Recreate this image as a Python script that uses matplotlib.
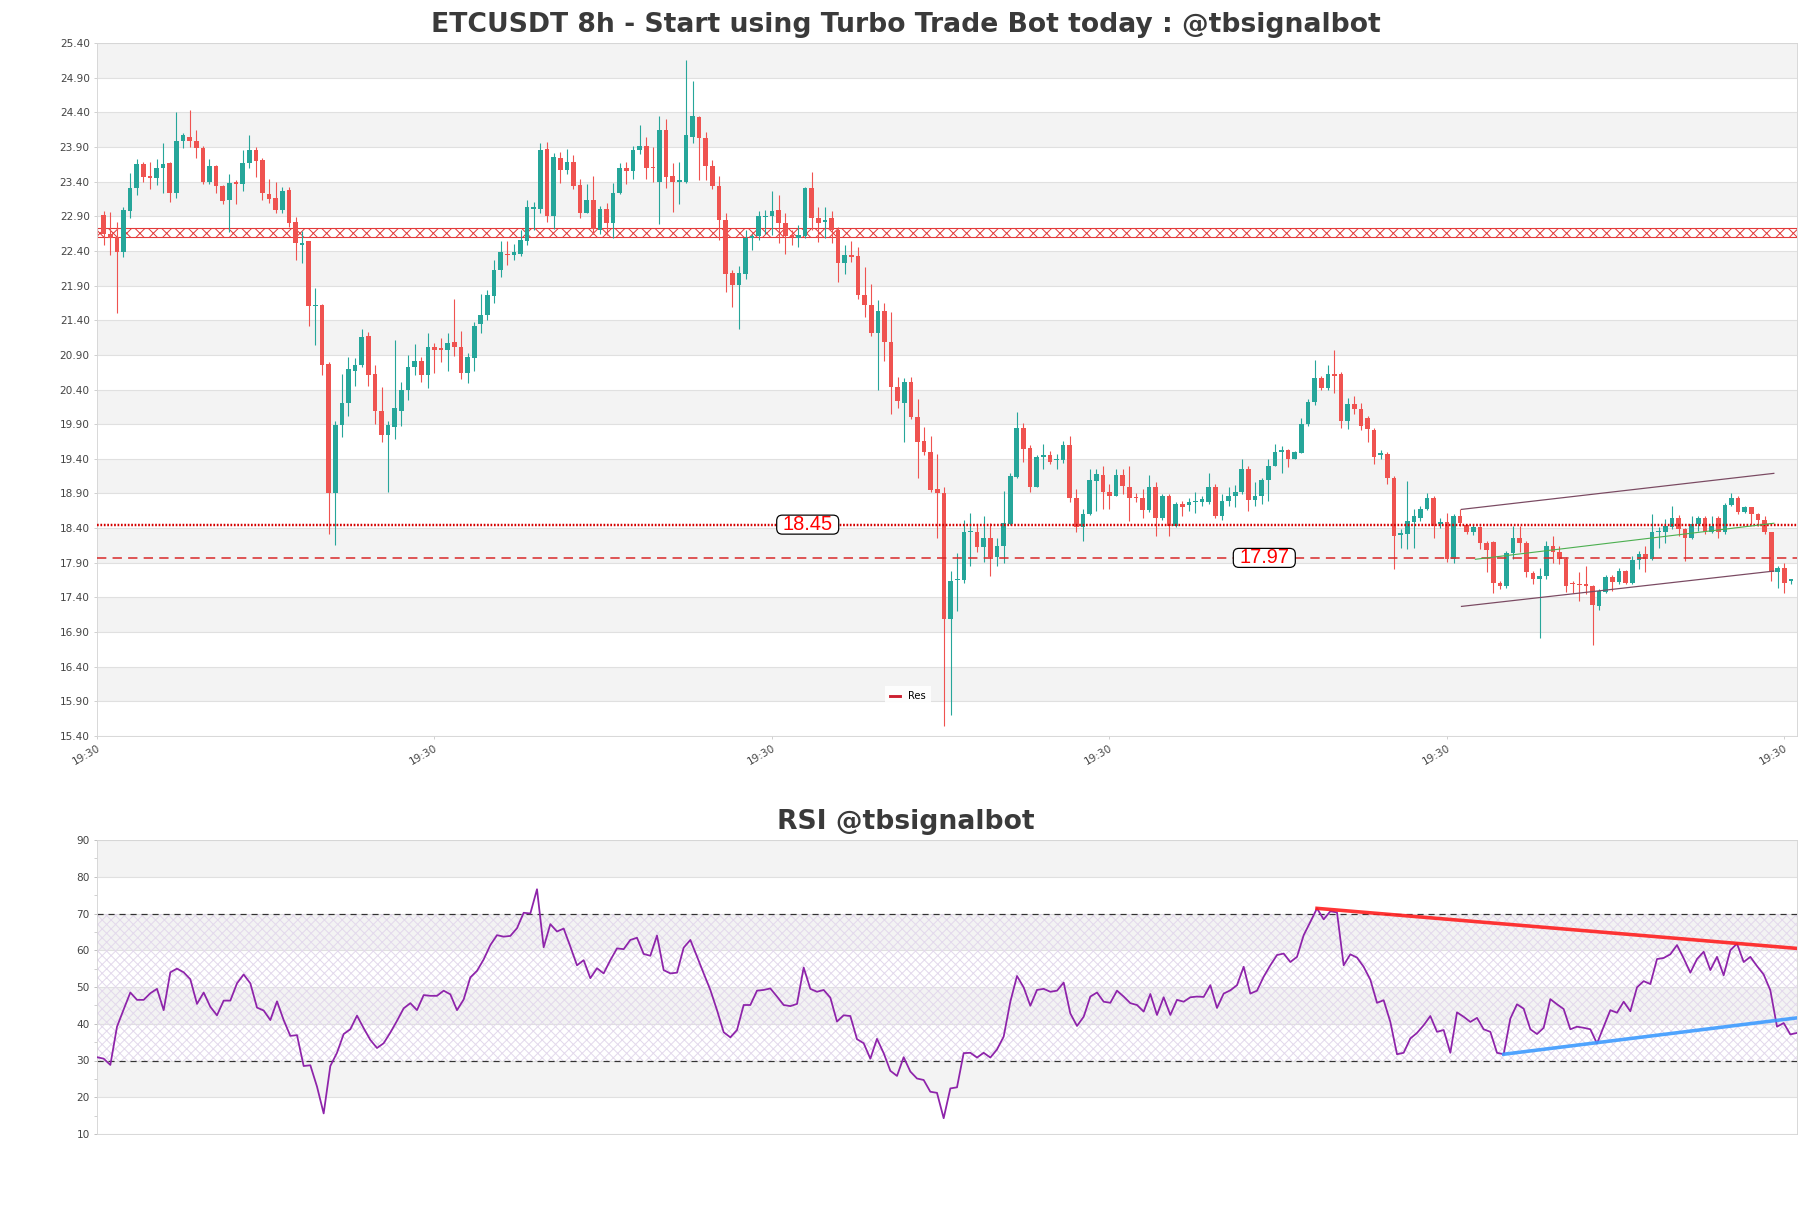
import numpy as np
import matplotlib
matplotlib.use("Agg")
from matplotlib import pyplot as plt
from matplotlib.lines import Line2D
from matplotlib.patches import FancyBboxPatch
import matplotlib.transforms as mtrans

# candles (8h)
opens = [
    22.92, 22.65, 22.60, 22.39, 22.98, 23.31, 23.66, 23.48, 23.45, 23.59,
    23.67, 23.24, 23.99, 24.05, 23.99, 23.88, 23.39, 23.62, 23.34, 23.13,
    23.38, 23.37, 23.67, 23.86, 23.71, 23.22, 23.16, 22.99, 23.28, 22.81,
    22.49, 22.55, 21.60, 21.62, 20.77, 18.91, 19.89, 20.21, 20.67, 20.75,
    21.17, 20.63, 20.09, 19.74, 19.86, 20.09, 20.40, 20.73, 20.81, 20.61,
    21.02, 21.00, 20.97, 21.08, 21.02, 20.64, 20.85, 21.34, 21.47, 21.75,
    22.12, 22.36, 22.34, 22.36, 22.55, 23.01, 23.00, 23.87, 22.90, 23.74,
    23.57, 23.69, 23.35, 22.95, 23.14, 22.70, 23.00, 22.80, 23.24, 23.59,
    23.56, 23.86, 23.91, 23.61, 23.39, 24.15, 23.48, 23.40, 23.39, 24.05,
    24.33, 24.03, 23.62, 23.34, 22.85, 22.08, 21.91, 22.07, 22.59, 22.61,
    22.89, 22.90, 22.99, 22.80, 22.63, 22.59, 22.61, 23.31, 22.88, 22.82,
    22.87, 22.70, 22.23, 22.34, 22.32, 21.77, 21.62, 21.21, 21.53, 21.08,
    20.44, 20.21, 20.51, 20.01, 19.65, 19.50, 18.97, 18.90, 17.09, 17.65,
    17.65, 18.34, 18.35, 18.13, 18.26, 17.98, 18.14, 18.46, 19.14, 19.85,
    19.55, 19.00, 19.43, 19.45, 19.38, 19.38, 19.60, 18.84, 18.42, 18.60,
    19.08, 19.16, 18.92, 18.87, 19.16, 19.00, 18.84, 18.83, 18.66, 19.00,
    18.54, 18.86, 18.43, 18.75, 18.73, 18.77, 18.77, 18.78, 19.00, 18.57,
    18.79, 18.86, 18.92, 19.26, 18.81, 18.87, 19.10, 19.30, 19.50, 19.52,
    19.40, 19.49, 19.90, 20.22, 20.56, 20.42, 20.62, 20.63, 19.95, 20.19,
    20.12, 19.99, 19.82, 19.45, 19.47, 19.12, 18.30, 18.31, 18.49, 18.55,
    18.68, 18.83, 18.46, 18.49, 17.95, 18.57, 18.44, 18.34, 18.41, 18.18,
    18.20, 17.61, 17.56, 18.04, 18.26, 18.19, 17.75, 17.66, 17.71, 18.14,
    18.06, 17.95, 17.60, 17.60, 17.59, 17.56, 17.28, 17.48, 17.69, 17.62,
    17.78, 17.61, 17.94, 18.02, 17.96, 18.34, 18.35, 18.41, 18.55, 18.38,
    18.25, 18.46, 18.55, 18.35, 18.55, 18.34, 18.73, 18.84, 18.63, 18.70,
    18.60, 18.52, 18.34, 17.77, 17.82, 17.64]
highs = [
    22.97, 22.96, 22.82, 23.03, 23.53, 23.73, 23.69, 23.69, 23.72, 23.96,
    23.69, 24.40, 24.10, 24.43, 24.15, 23.92, 23.73, 23.64, 23.35, 23.51,
    23.42, 23.86, 24.07, 23.90, 23.74, 23.44, 23.40, 23.32, 23.32, 22.89,
    22.68, 22.55, 21.86, 21.64, 20.80, 19.94, 20.63, 20.87, 20.85, 21.28,
    21.23, 20.75, 20.44, 19.95, 21.11, 20.51, 20.90, 21.06, 20.87, 21.22,
    21.07, 21.14, 21.21, 21.71, 21.24, 20.92, 21.38, 21.78, 21.83, 22.27,
    22.54, 22.55, 22.50, 22.70, 23.14, 23.11, 23.96, 23.97, 23.81, 23.83,
    23.87, 23.79, 23.44, 23.37, 23.48, 23.05, 23.09, 23.38, 23.67, 23.68,
    23.91, 24.21, 24.05, 23.90, 24.34, 24.30, 23.67, 23.69, 25.15, 24.85,
    24.35, 24.12, 23.71, 23.48, 22.94, 22.13, 22.18, 22.70, 22.65, 22.98,
    22.99, 23.27, 23.21, 22.94, 22.70, 22.77, 23.32, 23.54, 23.03, 23.03,
    22.97, 22.75, 22.49, 22.55, 22.46, 22.17, 21.92, 21.69, 21.65, 21.52,
    20.58, 20.56, 20.58, 20.26, 19.86, 19.73, 19.47, 19.00, 17.78, 18.04,
    18.51, 18.62, 18.46, 18.57, 18.48, 18.26, 18.94, 19.19, 20.08, 19.91,
    19.60, 19.45, 19.61, 19.51, 19.47, 19.66, 19.73, 18.97, 18.67, 19.25,
    19.25, 19.30, 19.03, 19.26, 19.26, 19.30, 18.91, 18.97, 19.16, 19.06,
    18.89, 18.89, 18.77, 18.79, 18.83, 18.92, 18.86, 19.19, 19.03, 18.89,
    18.99, 19.02, 19.40, 19.30, 19.06, 19.13, 19.40, 19.61, 19.59, 19.54,
    19.51, 19.99, 20.26, 20.83, 20.60, 20.76, 20.97, 20.65, 20.28, 20.31,
    20.20, 20.02, 19.85, 19.52, 19.50, 19.15, 18.38, 19.08, 18.67, 18.72,
    18.91, 18.86, 18.55, 18.62, 18.60, 18.68, 18.46, 18.46, 18.43, 18.22,
    18.22, 17.63, 18.07, 18.43, 18.43, 18.22, 17.78, 17.82, 18.22, 18.28,
    18.14, 17.98, 17.64, 17.77, 17.85, 17.58, 17.52, 17.73, 17.72, 17.83,
    17.80, 18.00, 18.07, 18.14, 18.60, 18.41, 18.53, 18.72, 18.59, 18.40,
    18.58, 18.58, 18.58, 18.57, 18.57, 18.76, 18.91, 18.87, 18.72, 18.71,
    18.62, 18.57, 18.34, 17.85, 17.90, 17.66]
lows = [
    22.48, 22.34, 21.51, 22.31, 22.88, 23.21, 23.40, 23.30, 23.35, 23.24,
    23.11, 23.16, 23.88, 23.90, 23.74, 23.37, 23.36, 23.24, 23.08, 22.67,
    23.08, 23.27, 23.60, 23.47, 23.14, 23.09, 22.95, 22.94, 22.75, 22.27,
    22.23, 21.31, 21.04, 20.61, 18.31, 18.16, 19.72, 20.02, 20.45, 20.73,
    20.45, 19.90, 19.64, 18.92, 19.69, 19.88, 20.25, 20.61, 20.51, 20.42,
    20.64, 20.79, 20.66, 20.88, 20.55, 20.49, 20.67, 21.22, 21.40, 21.65,
    22.02, 22.19, 22.27, 22.33, 22.48, 22.70, 22.94, 22.82, 22.71, 23.38,
    23.51, 23.30, 22.87, 22.94, 22.65, 22.65, 22.63, 22.59, 23.22, 23.36,
    23.44, 23.80, 23.44, 23.39, 22.79, 23.31, 22.96, 23.07, 23.38, 23.96,
    23.42, 23.42, 23.30, 22.56, 21.80, 21.59, 21.27, 21.99, 22.42, 22.56,
    22.64, 22.63, 22.52, 22.36, 22.48, 22.45, 22.59, 22.70, 22.53, 22.59,
    22.51, 21.95, 22.07, 22.24, 21.71, 21.44, 21.17, 20.40, 20.81, 20.04,
    20.13, 19.64, 19.98, 19.12, 19.45, 18.92, 18.26, 15.55, 15.71, 17.20,
    17.61, 17.85, 18.05, 17.91, 17.71, 17.85, 17.89, 18.44, 19.12, 19.36,
    18.92, 19.00, 19.26, 19.32, 19.26, 19.34, 18.77, 18.34, 18.22, 18.59,
    18.65, 18.68, 18.67, 18.87, 18.89, 18.50, 18.77, 18.54, 18.63, 18.28,
    18.52, 18.29, 18.41, 18.57, 18.65, 18.62, 18.72, 18.75, 18.54, 18.52,
    18.72, 18.71, 18.89, 18.65, 18.72, 18.75, 18.79, 19.30, 19.19, 19.28,
    19.39, 19.48, 19.88, 20.18, 20.40, 20.40, 20.35, 19.85, 19.83, 20.05,
    19.82, 19.64, 19.32, 19.40, 19.03, 17.81, 18.12, 18.10, 18.12, 18.50,
    18.66, 18.26, 18.40, 17.91, 17.90, 18.43, 18.31, 18.30, 18.10, 17.76,
    17.46, 17.52, 17.54, 17.96, 18.05, 17.70, 17.59, 16.81, 17.66, 17.90,
    17.88, 17.48, 17.46, 17.35, 17.45, 16.71, 17.22, 17.47, 17.49, 17.60,
    17.60, 17.59, 17.81, 17.77, 17.94, 18.12, 18.19, 18.39, 18.29, 17.93,
    18.24, 18.36, 18.31, 18.33, 18.26, 18.31, 18.72, 18.60, 18.62, 18.46,
    18.43, 18.31, 17.64, 17.54, 17.47, 17.59]
closes = [
    22.65, 22.59, 22.39, 22.99, 23.31, 23.65, 23.47, 23.45, 23.59, 23.66,
    23.24, 23.99, 24.07, 23.98, 23.88, 23.39, 23.62, 23.34, 23.12, 23.38,
    23.37, 23.67, 23.85, 23.70, 23.23, 23.15, 22.99, 23.27, 22.80, 22.51,
    22.52, 21.60, 21.62, 20.75, 18.90, 19.89, 20.21, 20.70, 20.75, 21.16,
    20.61, 20.09, 19.74, 19.89, 20.13, 20.40, 20.73, 20.81, 20.61, 21.02,
    20.97, 20.97, 21.07, 21.02, 20.64, 20.87, 21.32, 21.47, 21.76, 22.13,
    22.38, 22.34, 22.38, 22.56, 23.03, 23.03, 23.86, 22.90, 23.76, 23.57,
    23.69, 23.34, 22.95, 23.13, 22.71, 23.01, 22.80, 23.24, 23.60, 23.56,
    23.85, 23.91, 23.60, 23.59, 24.15, 23.47, 23.39, 23.42, 24.07, 24.34,
    24.03, 23.62, 23.34, 22.85, 22.07, 21.91, 22.08, 22.59, 22.61, 22.90,
    22.91, 22.97, 22.80, 22.61, 22.60, 22.63, 23.31, 22.88, 22.80, 22.85,
    22.70, 22.23, 22.34, 22.31, 21.76, 21.62, 21.21, 21.53, 21.08, 20.43,
    20.24, 20.51, 20.01, 19.64, 19.50, 18.95, 18.90, 17.09, 17.64, 17.66,
    18.34, 18.35, 18.13, 18.26, 17.98, 18.14, 18.48, 19.15, 19.85, 19.54,
    19.00, 19.42, 19.45, 19.36, 19.39, 19.60, 18.84, 18.42, 18.60, 19.09,
    19.18, 18.92, 18.87, 19.16, 19.01, 18.84, 18.83, 18.66, 19.00, 18.54,
    18.87, 18.43, 18.75, 18.70, 18.77, 18.78, 18.82, 19.00, 18.57, 18.79,
    18.86, 18.92, 19.26, 18.81, 18.87, 19.10, 19.30, 19.50, 19.52, 19.40,
    19.50, 19.90, 20.22, 20.56, 20.42, 20.63, 20.60, 19.95, 20.19, 20.12,
    19.87, 19.83, 19.43, 19.48, 19.12, 18.29, 18.33, 18.50, 18.57, 18.68,
    18.83, 18.43, 18.49, 17.95, 18.57, 18.47, 18.34, 18.41, 18.18, 18.09,
    17.61, 17.56, 18.04, 18.26, 18.18, 17.76, 17.66, 17.71, 18.14, 18.06,
    17.95, 17.57, 17.59, 17.58, 17.57, 17.29, 17.49, 17.69, 17.62, 17.78,
    17.61, 17.94, 18.02, 17.96, 18.35, 18.36, 18.43, 18.55, 18.38, 18.25,
    18.46, 18.55, 18.35, 18.43, 18.34, 18.73, 18.84, 18.63, 18.71, 18.60,
    18.52, 18.34, 17.77, 17.83, 17.61, 17.65]

rsi = [
    30.9, 30.5, 28.8, 39.2, 43.9, 48.5, 46.5, 46.5, 48.3, 49.5,
    43.7, 54.0, 55.0, 54.0, 52.1, 45.4, 48.5, 44.6, 42.3, 46.3,
    46.3, 51.0, 53.4, 51.0, 44.4, 43.6, 41.0, 46.1, 41.0, 36.7,
    36.9, 28.5, 28.7, 22.9, 15.6, 28.5, 32.1, 37.2, 38.5, 42.2,
    38.8, 35.6, 33.4, 34.7, 37.6, 40.8, 44.2, 45.6, 43.7, 47.8,
    47.6, 47.6, 49.0, 48.0, 43.7, 46.6, 52.6, 54.4, 57.5, 61.4,
    64.1, 63.7, 63.9, 66.0, 70.2, 70.0, 76.6, 60.8, 67.1, 65.1,
    65.9, 61.0, 55.9, 57.3, 52.4, 55.1, 53.7,
    57.3, 60.5, 60.3, 62.8, 63.4, 59.0, 58.5, 64.0, 54.6, 53.7,
    53.9, 60.7, 62.8, 58.3, 53.7, 49.2, 43.7, 37.7, 36.3, 38.3,
    45.1, 45.1, 49.0, 49.2, 49.6, 47.4, 45.1, 44.8, 45.4, 55.3,
    49.5, 48.7, 49.2, 47.1, 40.6, 42.3, 42.1, 35.8, 34.7, 30.5,
    35.9, 32.0, 27.2, 25.8, 30.9, 27.0, 25.1, 24.7, 21.5, 21.2,
    14.3, 22.4, 22.7, 32.0, 32.1, 30.8, 32.1, 30.8, 33.0, 36.5,
    46.0, 53.0, 49.9, 44.9, 49.2, 49.5, 48.7, 49.0, 51.2, 42.8,
    39.4, 41.9, 47.4, 48.5, 46.0, 45.7, 49.0, 47.4, 45.6, 45.1,
    43.3, 48.1, 42.4, 47.2, 42.4, 46.5, 46.0, 47.2, 47.4,
    47.3, 50.5, 44.3, 48.2, 49.1, 50.5, 55.5, 48.2, 49.0, 52.8,
    55.9, 58.7, 59.1, 56.8, 58.2, 64.1, 67.7, 71.4, 68.4, 70.6,
    70.3, 55.9, 58.9, 58.0, 55.5, 52.0, 45.7, 46.4, 40.5, 31.7,
    32.1, 36.0, 37.5, 39.6, 42.1, 37.8, 38.3, 32.1, 43.1, 41.9,
    40.5, 41.6, 38.5, 37.8, 32.1, 31.7, 41.4, 45.3, 44.1, 38.5,
    37.2, 38.9, 46.7, 45.3, 44.0, 38.5, 39.2, 38.9, 38.5, 34.6,
    39.2, 43.7, 43.0, 46.0, 43.4, 49.9, 51.6, 50.8, 57.6, 57.9,
    58.9, 61.4, 57.8, 53.9, 57.6, 59.6, 54.6, 58.2, 53.2, 60.0,
    61.8, 56.8, 58.2, 55.7, 53.4, 49.1, 39.2, 40.2, 37.1, 37.5]

tick_label = "19:30"
tick_step = 51

zone = (22.605, 22.726)
res_level = 18.45
sup_level = 17.97
res_label_x = 107.4
sup_label_x = 176.4

chan_x = [206.2, 253.4]
chan_top = [18.67, 19.19]
chan_bot = [17.27, 17.78]
mid_x = [208.3, 253.4]
mid_y = [17.95, 18.47]

rsi_top_x = [183, 255]
rsi_top_y = [71.4, 60.5]
rsi_bot_x = [211, 255]
rsi_bot_y = [31.7, 41.6]

UP = '#26a69a'
DOWN = '#ef5350'
BAND = '#f3f3f3'
GRID = '#e0e0e0'
TXT = '#444444'
DPI = 80

plt.rcParams['hatch.linewidth'] = 0.9
fig = plt.figure(figsize=(1811 / DPI, 1208 / DPI), dpi=DPI)
ax = fig.add_axes([97 / 1811, 1 - 736 / 1208, 1700 / 1811, 693 / 1208])
ax2 = fig.add_axes([97 / 1811, 1 - 1134 / 1208, 1700 / 1811, 294 / 1208])

# price panel
yt = np.round(np.arange(15.4, 25.41, 0.5), 2)
for j in range(len(yt) - 1):
    if j % 2 == 1:
        ax.axhspan(yt[j], yt[j + 1], color=BAND, lw=0, zorder=0)
for v in yt:
    ax.axhline(v, color=GRID, lw=1, zorder=0.5)

x = np.arange(1, len(opens) + 1)
o = np.array(opens)
c = np.array(closes)
hi = np.maximum(np.array(highs), np.maximum(o, c))
lo = np.minimum(np.array(lows), np.minimum(o, c))
col = np.where(c >= o, UP, DOWN)
ax.vlines(x, lo, hi, colors=col, lw=1.0, zorder=3)
ax.bar(x, np.maximum(np.abs(c - o), 0.02), bottom=np.minimum(o, c), width=0.7,
       color=col, lw=0, zorder=4)

ax.axhspan(zone[0], zone[1], facecolor='none', edgecolor='#e23a3a', hatch='xx',
           lw=1.0, zorder=2)
ax.axhline(res_level, color='#d40000', lw=2.2, ls=(0, (0.7, 0.7)), zorder=5)
ax.axhline(sup_level, color='#d92b2b', lw=1.4, ls=(0, (6, 4)), zorder=5)


def level_label(xpos, level):
    tr = fig.dpi_scale_trans + mtrans.ScaledTranslation(xpos, level, ax.transData)
    w, h = 62 / DPI, 19 / DPI
    ax.add_patch(FancyBboxPatch((-w / 2, -h / 2), w, h, transform=tr,
                                boxstyle='round,pad=0,rounding_size=0.07',
                                fc='white', ec='black', lw=1.1, zorder=6))
    ax.text(xpos, level, f'{level:.2f}', color='red', fontsize=18,
            family='Liberation Sans', ha='center', va='center', zorder=7)


level_label(res_label_x, res_level)
level_label(sup_label_x, sup_level)

ax.plot(chan_x, chan_top, color='#7a4a62', lw=1.1, zorder=5)
ax.plot(chan_x, chan_bot, color='#7a4a62', lw=1.1, zorder=5)
ax.plot(mid_x, mid_y, color='#4caf50', lw=1.0, zorder=5)

leg = ax.legend([Line2D([], [], color='#cc1f2f', lw=2.6)], ['Res'],
                loc='lower center', bbox_to_anchor=(0.477, 0.036), fontsize=9,
                handlelength=1.0, handletextpad=0.8, borderpad=0.5,
                fancybox=False, framealpha=0.9)
leg.get_frame().set_edgecolor('white')
leg.get_frame().set_linewidth(0)

ax.set_xlim(0, len(opens) + 0.9)
ax.set_ylim(yt[0], yt[-1])
ax.set_yticks(yt)
ax.set_yticklabels([f'{v:.2f}' for v in yt])
xt = np.arange(0, len(opens) + 1, tick_step)
ax.set_xticks(xt)
ax.set_xticklabels([tick_label] * len(xt), rotation=30, ha='right',
                   rotation_mode='anchor')
ax.tick_params(axis='y', labelsize=9.5, labelcolor=TXT, length=3, color='#cccccc')
ax.tick_params(axis='x', labelsize=9.5, labelcolor=TXT, length=3, color='#cccccc')
for s in ax.spines.values():
    s.set_color('#d5d5d5')

# RSI panel
rt = np.arange(10, 91, 10)
for j in range(len(rt) - 1):
    if j % 2 == 1:
        ax2.axhspan(rt[j], rt[j + 1], color=BAND, lw=0, zorder=0)
for v in rt:
    ax2.axhline(v, color=GRID, lw=1, zorder=0.5)
ax2.axhspan(30, 70, facecolor='none', edgecolor='#e3d9ec', hatch='xxx', lw=0, zorder=1)
ax2.axhline(30, color='#333333', lw=1.1, ls=(0, (5, 4)), zorder=2)
ax2.axhline(70, color='#333333', lw=1.1, ls=(0, (5, 4)), zorder=2)

xr = np.arange(len(rsi))
ax2.plot(xr, rsi, color='#8e24aa', lw=1.6, zorder=4)
ax2.plot(rsi_top_x, rsi_top_y, color='#ff1f1f', lw=3.2, alpha=0.9, zorder=5)
ax2.plot(rsi_bot_x, rsi_bot_y, color='#3d9bff', lw=3.2, alpha=0.9, zorder=5)

ax2.set_xlim(0, len(rsi) - 1)
ax2.set_ylim(10, 90)
ax2.set_yticks(rt)
ax2.set_yticks(np.arange(15, 90, 10), minor=True)
ax2.set_xticks([])
ax2.tick_params(axis='y', which='both', labelsize=9.5, labelcolor=TXT, length=3,
                color='#bbbbbb')
for s in ax2.spines.values():
    s.set_color('#d5d5d5')

fig.text(0.5, 1 - 32.3 / 1208, 'ETCUSDT 8h - Start using Turbo Trade Bot today : @tbsignalbot',
         ha='center', va='baseline', fontsize=24, fontweight='bold', color='#3a3a3a')
fig.text(0.5, 1 - 829.3 / 1208, 'RSI @tbsignalbot', ha='center', va='baseline',
         fontsize=24, fontweight='bold', color='#3a3a3a')

fig.savefig('out.png', dpi=DPI)
